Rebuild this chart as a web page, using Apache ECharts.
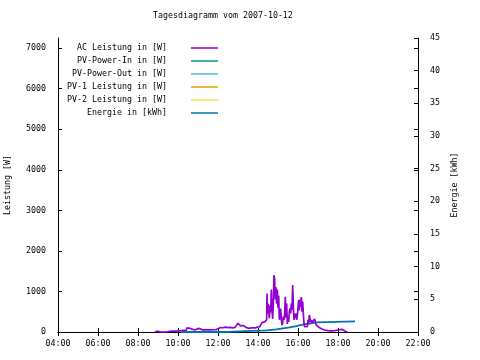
<!DOCTYPE html>
<html>
<head>
<meta charset="utf-8">
<script src="https://cdn.jsdelivr.net/npm/echarts@6/dist/echarts.min.js"></script>
<style>html,body{margin:0;padding:0;background:#fff;}#c{width:480px;height:360px;}</style>
</head>
<body>
<div id="c"></div>
<script>
var titleText = 'Tagesdiagramm vom 2007-10-12';
var seriesNames = ['AC Leistung in [W]', 'PV-Power-In in [W]', 'PV-Power-Out in [W]', 'PV-1 Leistung in [W]', 'PV-2 Leistung in [W]', 'Energie in [kWh]'];
var seriesColors = ['#9400d3', '#009e73', '#56b4e9', '#e69f00', '#f0e442', '#0072b2'];
var xTicks = [4, 6, 8, 10, 12, 14, 16, 18, 20, 22];

var acTime = ['08:50','08:52','09:00','09:06','09:08','09:24','09:26','09:40','09:55','10:05','10:15','10:25','10:27','10:32','10:36','10:40','10:42','10:50','10:56','11:02','11:06','11:15','11:25','11:35','11:45','11:55','12:00','12:08','12:15','12:22','12:30','12:38','12:45','12:52','12:56','13:00','13:03','13:08','13:15','13:20','13:25','13:32','13:40','13:46','13:52','13:58','14:05','14:10',
'14:12','14:14','14:16','14:18','14:20','14:22','14:24','14:26','14:27','14:28','14:30','14:32','14:34','14:36','14:38','14:40','14:42','14:44','14:46','14:48','14:50','14:52','14:54','14:56','14:58','15:00','15:02','15:04','15:06','15:08','15:10','15:12','15:14','15:16','15:18','15:20','15:22','15:24','15:26','15:28','15:30','15:32','15:34','15:36','15:38','15:40','15:42','15:44','15:46','15:48','15:50','15:52','15:54','15:56','15:58','16:00','16:02','16:04','16:06','16:08','16:10','16:12','16:14','16:16','16:18','16:20','16:22','16:24','16:26','16:28','16:30','16:32','16:34','16:36','16:38','16:40','16:42','16:44','16:46','16:48','16:50','16:52','16:54',
'16:56','17:00','17:05','17:10','17:15','17:20','17:25','17:30','17:40','17:50','18:00','18:05','18:12','18:18','18:22','18:28','18:31'];
var acPower = [0,15,20,15,0,0,20,25,20,30,40,45,100,110,90,120,60,50,85,90,55,50,55,50,55,60,100,110,105,120,110,115,100,120,130,215,180,150,160,130,110,90,100,85,100,120,130,170,
230,250,245,260,250,240,260,300,950,460,700,550,340,650,480,1050,540,320,700,1400,1300,800,1100,700,1050,600,900,300,420,580,300,170,220,380,300,460,870,350,700,200,380,250,500,580,460,700,550,1160,620,300,450,350,460,300,400,600,790,540,800,620,860,500,750,460,210,130,170,130,140,130,300,210,420,445,250,300,230,210,250,230,320,300,
180,170,130,100,80,75,50,40,33,30,35,50,55,65,30,20,0];

var energyTime = ['10:10','12:25','13:05','14:25','14:55','15:15','15:35','15:55','16:10','16:35','16:55','18:51'];
var energyKWh = [0, 0.1, 0.25, 0.4, 0.55, 0.7, 0.9, 1.1, 1.3, 1.47, 1.63, 1.63];

function hrs(s) { var p = s.split(':'); return (+p[0]) + (+p[1]) / 60; }
function pairs(t, v) { return t.map(function (s, i) { return [hrs(s), v[i]]; }); }

var FONT = 'DejaVu Sans Mono';
var FS = 8.3;
var chart = echarts.init(document.getElementById('c'), null, {renderer: 'canvas'});

var legends = seriesNames.map(function (n, i) {
  return {
    data: [n], orient: 'vertical', align: 'right', right: 262, top: 44 + i * 13,
    icon: 'rect', itemWidth: 27, itemHeight: 1.5, padding: 0,
    textStyle: {fontFamily: FONT, fontSize: FS, color: '#000', padding: [0, 19, 0, 0]},
    selectedMode: false
  };
});

var series = [
  {name: seriesNames[0], type: 'line', yAxisIndex: 0, showSymbol: false, symbol: 'none',
   data: pairs(acTime, acPower), lineStyle: {color: seriesColors[0], width: 1.7}, itemStyle: {color: seriesColors[0]}, z: 3},
  {name: seriesNames[1], type: 'line', yAxisIndex: 0, symbol: 'none', data: [], lineStyle: {color: seriesColors[1]}, itemStyle: {color: seriesColors[1]}},
  {name: seriesNames[2], type: 'line', yAxisIndex: 0, symbol: 'none', data: [], lineStyle: {color: seriesColors[2]}, itemStyle: {color: seriesColors[2]}},
  {name: seriesNames[3], type: 'line', yAxisIndex: 0, symbol: 'none', data: [], lineStyle: {color: seriesColors[3]}, itemStyle: {color: seriesColors[3]}},
  {name: seriesNames[4], type: 'line', yAxisIndex: 0, symbol: 'none', data: [], lineStyle: {color: seriesColors[4]}, itemStyle: {color: seriesColors[4]}},
  {name: seriesNames[5], type: 'line', yAxisIndex: 1, symbol: 'none', step: 'end',
   data: pairs(energyTime, energyKWh), lineStyle: {color: seriesColors[5], width: 1.8}, itemStyle: {color: seriesColors[5]}, z: 2}
];

var axisLine = {show: true, lineStyle: {color: '#000', width: 1}};
var tick = {show: true, inside: true, length: 4, lineStyle: {color: '#000'}};
function plain(v) { return String(v); }

chart.setOption({
  animation: false,
  backgroundColor: '#fff',
  title: {text: titleText, left: 153, top: 12, padding: 0,
          textStyle: {fontFamily: FONT, fontSize: FS, fontWeight: 'normal', color: '#000'}},
  legend: legends,
  grid: {left: 58, right: 62, top: 38, bottom: 28, containLabel: false, outerBoundsMode: 'none'},
  xAxis: [
    {type: 'value', min: xTicks[0], max: xTicks[xTicks.length - 1], interval: 2, position: 'bottom',
     axisLine: axisLine, axisTick: tick, splitLine: {show: false},
     axisLabel: {margin: 8, fontFamily: FONT, fontSize: FS, color: '#000',
                 formatter: function (v) { return (v < 10 ? '0' : '') + v + ':00'; }}},
    {type: 'value', min: xTicks[0], max: xTicks[xTicks.length - 1], interval: 2, position: 'top',
     axisLine: axisLine, axisTick: tick, splitLine: {show: false}, axisLabel: {show: false}}
  ],
  yAxis: [
    {type: 'value', min: 0, max: 7250, interval: 1000, position: 'left',
     name: 'Leistung [W]', nameLocation: 'middle', nameGap: 46, nameRotate: 90,
     nameTextStyle: {fontFamily: FONT, fontSize: FS, color: '#000'},
     axisLine: axisLine, axisTick: tick, splitLine: {show: false},
     axisLabel: {margin: 12, showMaxLabel: false, formatter: plain, fontFamily: FONT, fontSize: FS, color: '#000'}},
    {type: 'value', min: 0, max: 45, interval: 5, position: 'right',
     name: 'Energie [kWh]', nameLocation: 'middle', nameGap: 31, nameRotate: 90,
     nameTextStyle: {fontFamily: FONT, fontSize: FS, color: '#000'},
     axisLine: axisLine, axisTick: tick, splitLine: {show: false},
     axisLabel: {margin: 12, formatter: plain, fontFamily: FONT, fontSize: FS, color: '#000'}},
    {type: 'value', min: 0, max: 7250, interval: 1000, position: 'right',
     axisLine: {show: false}, axisTick: tick, splitLine: {show: false}, axisLabel: {show: false}}
  ],
  series: series
});
</script>
</body>
</html>
